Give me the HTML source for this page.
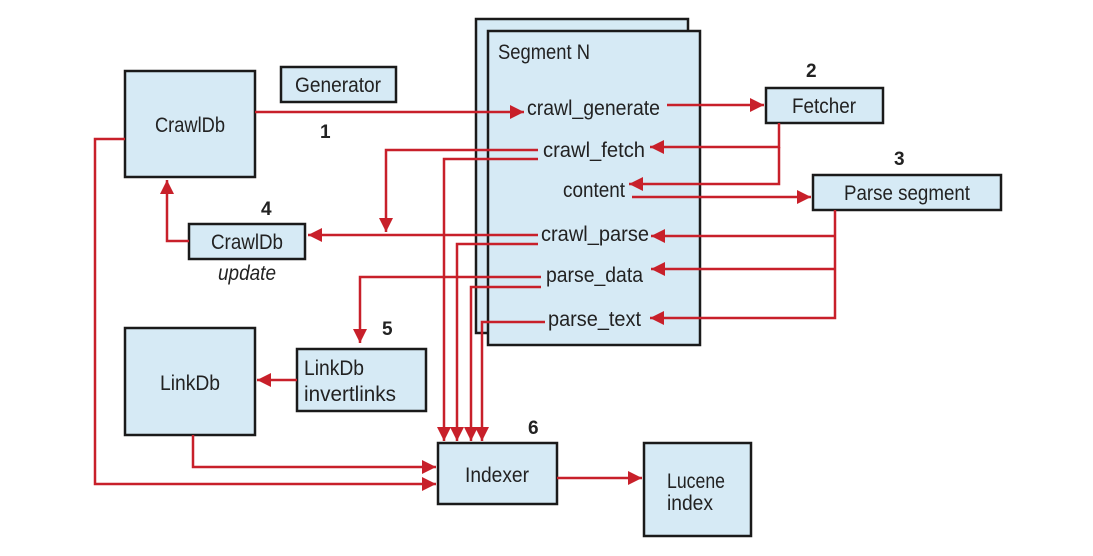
<!DOCTYPE html>
<html><head><meta charset="utf-8"><style>
html,body{margin:0;padding:0;background:#fff;width:1093px;height:556px;overflow:hidden}
svg{display:block}
text{font-family:"Liberation Sans",sans-serif;fill:#222;font-size:21px}
.b{fill:#d6eaf5;stroke:#1a1a1a;stroke-width:2.5}
.r{fill:none;stroke:#c8202a;stroke-width:2.5}
.n{font-weight:bold;font-size:19px}
</style></head><body>
<svg width="1093" height="556" viewBox="0 0 1093 556">
<defs>
<marker id="h" viewBox="0 0 10 10" refX="10" refY="5" markerWidth="14" markerHeight="14" orient="auto" markerUnits="userSpaceOnUse"><path d="M0,0 L10,5 L0,10 z" fill="#c8202a"/></marker></defs>
<rect class="b" x="476" y="19" width="212" height="314"/>
<rect class="b" x="488" y="31" width="212" height="314"/>
<text x="498" y="59" textLength="92" lengthAdjust="spacingAndGlyphs">Segment N</text>
<rect class="b" x="125" y="71" width="130" height="106"/>
<text x="190" y="132" text-anchor="middle" textLength="70" lengthAdjust="spacingAndGlyphs">CrawlDb</text>
<rect class="b" x="281" y="67" width="115" height="35"/>
<text x="338" y="92" text-anchor="middle" textLength="86" lengthAdjust="spacingAndGlyphs">Generator</text>
<rect class="b" x="189" y="224" width="116" height="35"/>
<text x="247" y="249" text-anchor="middle" textLength="72" lengthAdjust="spacingAndGlyphs">CrawlDb</text>
<text x="247" y="280" text-anchor="middle" font-style="italic" textLength="58" lengthAdjust="spacingAndGlyphs">update</text>
<rect class="b" x="125" y="328" width="130" height="107"/>
<text x="190" y="390" text-anchor="middle" textLength="60" lengthAdjust="spacingAndGlyphs">LinkDb</text>
<rect class="b" x="297" y="349" width="129" height="62"/>
<text x="304" y="375" textLength="60" lengthAdjust="spacingAndGlyphs">LinkDb</text>
<text x="304" y="401" textLength="92" lengthAdjust="spacingAndGlyphs">invertlinks</text>
<rect class="b" x="438" y="443" width="119" height="61"/>
<text x="497" y="482" text-anchor="middle" textLength="64" lengthAdjust="spacingAndGlyphs">Indexer</text>
<rect class="b" x="644" y="443" width="107" height="93"/>
<text x="667" y="488" textLength="58" lengthAdjust="spacingAndGlyphs">Lucene</text>
<text x="667" y="510" textLength="46" lengthAdjust="spacingAndGlyphs">index</text>
<rect class="b" x="766" y="88" width="117" height="35"/>
<text x="824" y="113" text-anchor="middle" textLength="64" lengthAdjust="spacingAndGlyphs">Fetcher</text>
<rect class="b" x="813" y="175" width="188" height="35"/>
<text x="907" y="200" text-anchor="middle" textLength="126" lengthAdjust="spacingAndGlyphs">Parse segment</text>
<text x="527" y="115" textLength="133" lengthAdjust="spacingAndGlyphs">crawl_generate</text>
<text x="543" y="157" textLength="102" lengthAdjust="spacingAndGlyphs">crawl_fetch</text>
<text x="563" y="197" textLength="62" lengthAdjust="spacingAndGlyphs">content</text>
<text x="541" y="241" textLength="108" lengthAdjust="spacingAndGlyphs">crawl_parse</text>
<text x="546" y="282" textLength="97" lengthAdjust="spacingAndGlyphs">parse_data</text>
<text x="548" y="326" textLength="93" lengthAdjust="spacingAndGlyphs">parse_text</text>
<text class="n" x="320" y="138">1</text>
<text class="n" x="806" y="77">2</text>
<text class="n" x="894" y="165">3</text>
<text class="n" x="261" y="215">4</text>
<text class="n" x="382" y="335">5</text>
<text class="n" x="528" y="434">6</text>
<path class="r" d="M255,112 H524" marker-end="url(#h)"/>
<path class="r" d="M667,105 H764" marker-end="url(#h)"/>
<path class="r" d="M779,123 V147 H650" marker-end="url(#h)"/>
<path class="r" d="M779,147 V184 H629" marker-end="url(#h)"/>
<path class="r" d="M632,197 H811" marker-end="url(#h)"/>
<path class="r" d="M835,210 V318 H650" marker-end="url(#h)"/>
<path class="r" d="M835,236 H651" marker-end="url(#h)"/>
<path class="r" d="M835,269 H651" marker-end="url(#h)"/>
<path class="r" d="M538,150 H386 V232" marker-end="url(#h)"/>
<path class="r" d="M538,159 H444 V441" marker-end="url(#h)"/>
<path class="r" d="M538,235 H308" marker-end="url(#h)"/>
<path class="r" d="M538,244 H457 V441" marker-end="url(#h)"/>
<path class="r" d="M541,277 H360 V343" marker-end="url(#h)"/>
<path class="r" d="M541,287 H471 V441" marker-end="url(#h)"/>
<path class="r" d="M545,322 H482 V441" marker-end="url(#h)"/>
<path class="r" d="M189,241 H167 V180" marker-end="url(#h)"/>
<path class="r" d="M297,380 H257" marker-end="url(#h)"/>
<path class="r" d="M193,435 V467 H436" marker-end="url(#h)"/>
<path class="r" d="M125,139 H95 V484 H436" marker-end="url(#h)"/>
<path class="r" d="M557,478 H642" marker-end="url(#h)"/>
</svg>
</body></html>
